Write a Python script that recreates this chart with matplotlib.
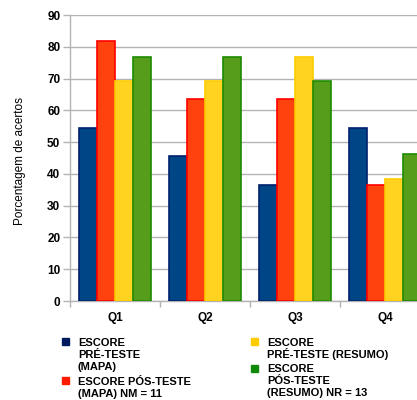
import numpy as np
import matplotlib
matplotlib.use("Agg")
import matplotlib.pyplot as plt
from matplotlib.patches import Rectangle

plt.rcParams['font.family'] = ['Liberation Sans', 'DejaVu Sans']

# Percent of correct answers per question
questions = ["Q1", "Q2", "Q3", "Q4"]
pre_mapa = [54.5, 45.5, 36.4, 54.5]
pos_mapa = [81.8, 63.6, 63.6, 36.4]
pre_resumo = [69.2, 69.2, 76.9, 38.5]
pos_resumo = [76.9, 76.9, 69.2, 46.2]

series = [pre_mapa, pos_mapa, pre_resumo, pos_resumo]
fills = ["#004586", "#ff420e", "#ffd320", "#579d1c"]
edges = ["#00206e", "#ff0000", "#ffcc00", "#1e8a00"]
keys = ["#001a5e", "#ff1a00", "#ffcc00", "#118a0a"]
labels = [["ESCORE", "PRÉ-TESTE", "(MAPA)"],
          ["ESCORE PÓS-TESTE", "(MAPA) NM = 11"],
          ["ESCORE", "PRÉ-TESTE (RESUMO)"],
          ["ESCORE", "PÓS-TESTE", "(RESUMO) NR = 13"]]

fig = plt.figure(figsize=(4.17, 4.0), dpi=100)
ax = fig.add_axes([0.168, 0.2475, 0.832, 0.715])

x = np.arange(len(questions))
w = 0.2
for i, (vals, fc, ec) in enumerate(zip(series, fills, edges)):
    ax.bar(x + (i - 1.5) * w, vals, width=w, color=fc, edgecolor=ec,
           linewidth=1.2, zorder=3)

ax.set_ylim(0, 90)
ax.set_yticks(range(0, 91, 10))
ax.set_xlim(-0.5, 3.356)
ax.set_xticks(x)
ax.set_xticklabels(questions, fontsize=8.5, fontweight='bold')
ax.set_xticks(np.arange(-0.5, 3.0, 1.0), minor=True)
ax.tick_params(axis='x', which='major', length=0, pad=8)
ax.tick_params(axis='x', which='minor', length=4, color='#b3b3b3', width=1)
ax.tick_params(axis='y', length=5, color='#b3b3b3', width=1, pad=2,
               labelsize=8.5)
for t in ax.get_yticklabels():
    t.set_fontweight('bold')

ax.grid(axis='y', color='#b3b3b3', linewidth=1, zorder=0)
for s in ['top', 'right']:
    ax.spines[s].set_visible(False)
for s in ['left', 'bottom']:
    ax.spines[s].set_color('#b3b3b3')
    ax.spines[s].set_linewidth(1)

fig.text(0.048, 0.598, "Porcentagem de acertos", rotation=90,
         ha='center', va='center', fontsize=8.5)

# legend drawn by hand, two columns below the axes (pixel positions)
W, H = 417.0, 400.0
step = 11.8
spots = [(62, 346), (62, 385), (251, 346), (251, 372.5)]
for (px, base), kc, lines in zip(spots, keys, labels):
    fig.patches.append(Rectangle((px / W, 1 - (base - 1) / H), 7 / W, 7 / H,
                                 transform=fig.transFigure, color=kc))
    for k, line in enumerate(lines):
        fig.text((px + 16) / W, 1 - (base + step * k) / H, line, ha='left',
                 va='baseline', fontsize=8, fontweight='bold')

fig.savefig("out.png", dpi=100)
